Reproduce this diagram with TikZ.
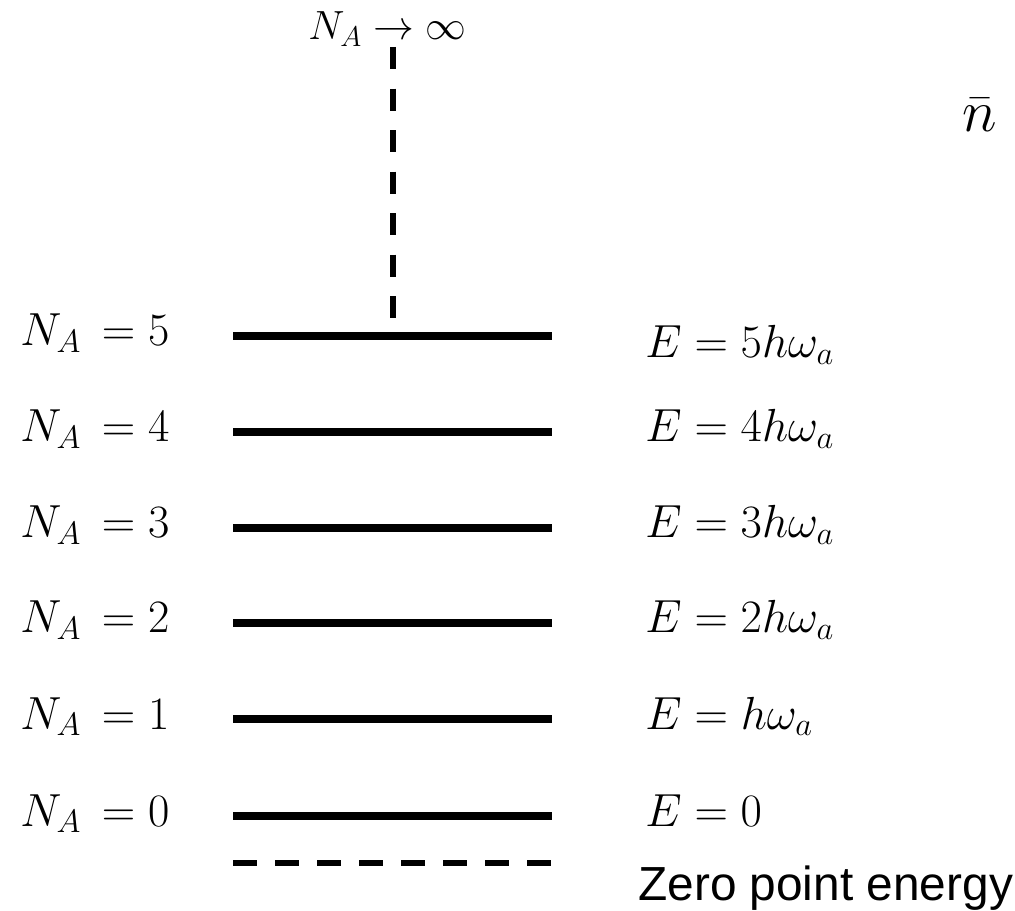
\RequirePackage{fix-cm}
\documentclass[tikz,border=0pt]{standalone}
\usepackage{fontspec}
\usepackage{amsmath}
\usepackage{tikz}
\usetikzlibrary{positioning}
\newfontfamily\zpefont{Liberation Sans}

\begin{document}
\begin{tikzpicture}[
    x=0.025cm, y=-0.025cm,
    level/.style={
        line width=5pt
    },
    zpeline/.style={
        line width=4.3pt, dash pattern=on 17.07pt off 12.8pt
    },
    limline/.style={
        line width=4.3pt, dash pattern=on 15.65pt off 13.87pt
    },
    nlbl/.style={
        anchor=base west, inner sep=0pt,
        font=\fontsize{33}{40}\selectfont
    },
    elbl/.style={
        anchor=base west, inner sep=0pt,
        font=\fontsize{33}{40}\selectfont
    }
]
\useasboundingbox (0,0) rectangle (1015,911);

% energy levels
\coordinate (l5a) at (233,336); \coordinate (l5b) at (552,336);
\coordinate (l4a) at (233,432); \coordinate (l4b) at (552,432);
\coordinate (l3a) at (233,528); \coordinate (l3b) at (552,528);
\coordinate (l2a) at (233,623); \coordinate (l2b) at (552,623);
\coordinate (l1a) at (233,719); \coordinate (l1b) at (552,719);
\coordinate (l0a) at (233,816); \coordinate (l0b) at (552,816);
\coordinate (zpa) at (233,863); \coordinate (zpb) at (552,863);

\draw[level] (l5a) -- (l5b);
\draw[level] (l4a) -- (l4b);
\draw[level] (l3a) -- (l3b);
\draw[level] (l2a) -- (l2b);
\draw[level] (l1a) -- (l1b);
\draw[level] (l0a) -- (l0b);
\draw[zpeline] (zpa) -- (zpb);

% quantum numbers
\node[nlbl] (n5) at (20,346) {$N_A\,=5$};
\node[nlbl] (n4) at (20,442) {$N_A\,=4$};
\node[nlbl] (n3) at (20,538) {$N_A\,=3$};
\node[nlbl] (n2) at (20,633) {$N_A\,=2$};
\node[nlbl] (n1) at (20,729) {$N_A\,=1$};
\node[nlbl] (n0) at (20,826) {$N_A\,=0$};

% energies
\node[elbl] (e5) at (645,358) {$E=5h\omega_a$};
\node[elbl] (e4) at (645,442) {$E=4h\omega_a$};
\node[elbl] (e3) at (645,538) {$E=3h\omega_a$};
\node[elbl] (e2) at (645,633) {$E=2h\omega_a$};
\node[elbl] (e1) at (645,729) {$E=h\omega_a$};
\node[elbl] (e0) at (645,826) {$E=0$};
\node[anchor=base west, inner sep=0pt, font=\zpefont\fontsize{34}{40}\selectfont]
    (zpe) at (638,900) {Zero point energy};

% limit
\node[anchor=base west, inner sep=0pt, font=\fontsize{29}{36}\selectfont]
    (inf) at (308,40) {$N_A\to\infty$};
\coordinate (limtop) at (393,47);
\coordinate (lim5) at (393,336);
\draw[limline] (limtop) -- (lim5);

\node[anchor=base, inner sep=0pt, font=\fontsize{42}{48}\selectfont]
    (nbar) at (980,132) {$\bar{n}$};

\end{tikzpicture}
\end{document}
